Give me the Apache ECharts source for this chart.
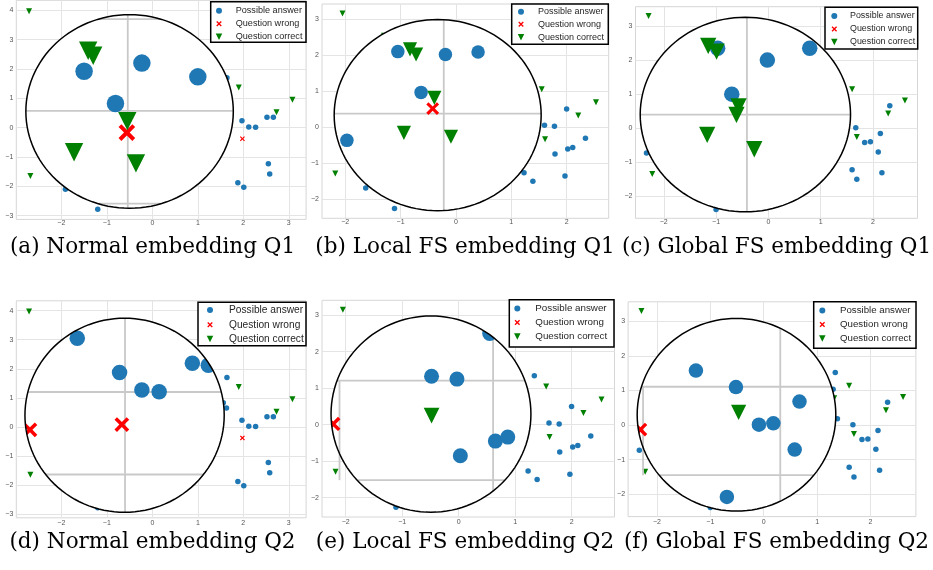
<!DOCTYPE html>
<html><head><meta charset="utf-8">
<script src="https://cdn.jsdelivr.net/npm/echarts@6/dist/echarts.min.js"></script>
<style>html,body{margin:0;padding:0;background:#fff}#c{width:933px;height:570px}</style>
</head><body><div id="c"></div>
<script>
// ================= DATA =================
// Background (small) points, shared by the two panels of the same embedding
const normalAnswer  = [[1.64,1.70],[1.56,0.83],[1.63,0.65],[1.97,0.23],[2.12,0.02],[2.27,0.01],[2.52,0.35],[2.66,0.35],[2.55,-1.23],[2.58,-1.58],[1.88,-1.88],[2.01,-2.03],[-1.91,-2.10],[-1.20,-2.78]];
const normalWrong   = [[1.98,-0.38]];
const normalCorrect = [[-2.71,3.97],[-2.68,-1.65],[1.90,1.37],[3.08,0.95],[2.73,0.52]];
const localAnswer   = [[2.00,0.50],[1.60,0.05],[1.78,0.02],[2.34,-0.31],[2.11,-0.57],[2.02,-0.61],[1.79,-0.75],[1.23,-1.27],[1.39,-1.50],[1.97,-1.36],[-1.63,-1.69],[-1.11,-2.26],[1.34,1.34]];
const localWrong    = [];
const localCorrect  = [[-2.05,3.15],[-1.30,2.53],[1.55,1.05],[2.53,0.69],[2.21,0.32],[1.61,-0.34],[-2.18,-1.29]];
const globalAnswer  = [[2.32,0.66],[1.67,0.01],[2.14,-0.16],[1.84,-0.42],[1.95,-0.40],[2.10,-0.70],[1.60,-1.22],[1.69,-1.50],[2.17,-1.31],[1.34,1.52],[1.30,1.04],[1.38,0.18],[-2.33,-0.73],[-1.00,-2.39]];
const globalWrong   = [];
const globalCorrect = [[-2.29,3.30],[-2.22,-1.35],[1.60,1.14],[2.61,0.81],[2.29,0.43],[1.69,-0.26],[1.32,0.78]];

// Magnified (lens) points per panel
const lensAAnswer  = [[-1.50,1.92],[-0.23,2.20],[1.00,1.73],[-0.81,0.82]];
const lensAWrong   = [[-0.56,-0.17]];
const lensACorrect = [[-1.41,2.62],[-1.30,2.45],[-0.55,0.22],[-1.72,-0.84],[-0.36,-1.22]];
const lensBAnswer  = [[-1.05,2.09],[-0.19,2.01],[0.40,2.08],[-0.63,0.96],[-1.97,-0.37]];
const lensBWrong   = [[-0.42,0.51]];
const lensBCorrect = [[-0.83,2.15],[-0.72,2.01],[-0.39,0.81],[-0.94,-0.16],[-0.09,-0.27]];
const lensCAnswer  = [[-0.97,2.35],[-0.02,2.00],[0.79,2.35],[-0.70,1.00]];
const lensCWrong   = [];
const lensCCorrect = [[-1.15,2.42],[-0.99,2.25],[-0.57,0.64],[-0.61,0.39],[-1.17,-0.20],[-0.27,-0.62]];
const lensDAnswer  = [[-1.65,3.05],[-0.72,1.87],[0.88,2.19],[1.23,2.12],[-0.23,1.27],[0.15,1.21]];
const lensDWrong   = [[-0.67,0.08],[-2.69,-0.10]];
const lensDCorrect = [];
const lensEAnswer  = [[0.55,2.50],[-0.48,1.33],[-0.03,1.25],[0.65,-0.45],[0.87,-0.34],[0.03,-0.85]];
const lensEWrong   = [[-2.22,0.02]];
const lensECorrect = [[-0.48,0.25]];
const lensFAnswer  = [[-1.27,1.58],[-0.52,1.10],[0.67,0.68],[-0.09,0.01],[0.18,0.05],[0.58,-0.71],[-0.69,-2.08]];
const lensFWrong   = [[-2.31,-0.13]];
const lensFCorrect = [[-0.47,0.37]];

// Lens ellipses: [centre x, centre y, radius x, radius y] in data units
const lensCircles = [[-0.50,0.55,2.28,3.30],[-0.33,0.33,1.87,2.65],[-0.44,0.40,2.01,2.86],[-0.61,0.40,2.19,3.34],[-0.49,0.29,1.77,2.69],[-0.51,0.30,1.86,2.79]];
// Lens grid lines (data values)
const lensVLines = [[-0.54],[-0.22],[-0.41],[-0.60],[0.61],[0.31]];
const lensHLines = [[0.57,3.70,-2.59],[0.37],[0.40],[1.20,-1.64],[1.21,-1.52],[1.11,-1.45]];
const lensSegments = [[],[],[],[],[[-2.11,1.21,-2.11,-1.52]],[[-2.26,1.11,-2.26,-1.45]]];

// Axes
const normalXRange = [-2.99, 3.38], normalYRange = [-3.13, 4.34];
const localXRange  = [-2.42, 2.76], localYRange  = [-2.53, 3.41];
const globalXRange = [-2.54, 2.85], globalYRange = [-2.65, 3.57];
const normalXTicks = [-2,-1,0,1,2,3], normalYTicks = [-3,-2,-1,0,1,2,3,4];
const localXTicks  = [-2,-1,0,1,2],   localYTicks  = [-2,-1,0,1,2,3];
const globalXTicks = [-2,-1,0,1,2],   globalYTicks = [-2,-1,0,1,2,3];

const legendNames = ['Possible answer','Question wrong','Question correct'];
const captions = ['(a) Normal embedding Q1','(b) Local FS embedding Q1','(c) Global FS embedding Q1','(d) Normal embedding Q2','(e) Local FS embedding Q2','(f) Global FS embedding Q2'];

// ================= LAYOUT / STYLE =================
const BLUE = '#1f77b4', RED = '#ff0000', GREEN = '#008000';
const X_PTS = [[0,1.7],[1.7,0],[5,3.3],[8.3,0],[10,1.7],[6.7,5],[10,8.3],[8.3,10],[5,6.7],[1.7,10],[0,8.3],[3.3,5]];
const X_PATH = 'path://M' + X_PTS.map(p => p.join(',')).join('L') + 'Z';
const TRI_PATH = 'path://M0,0L10,0L5,10Z';

const layout = [
  {grid:[16.3,0.3,289.8,219.1], big:17.5, lg:{box:[210.7,1.7,306,42.3], rows:[10.7,23.7,36.7], iconX:219, textX:235.7, font:9.1}, xm:0},
  {grid:[322.0,4.0,286.7,214.3], big:13.5, lg:{box:[511.7,4,608.3,44.3], rows:[11.7,24.3,37.3], iconX:521, textX:538, font:9.0}, xm:0},
  {grid:[635.5,6.7,282.0,211.6], big:15.5, lg:{box:[825,7.3,917.7,49], rows:[16,29,42], iconX:834.3, textX:850, font:8.9}, xm:0},
  {grid:[16.3,300.8,289.8,217.0], big:15.5, lg:{box:[198,302.3,306,345.7], rows:[310,324.7,339], iconX:210, textX:229, font:10.2}, xm:2},
  {grid:[322.0,300.3,292.5,216.7], big:15, lg:{box:[509.3,299.7,614,347], rows:[308.5,322.5,336.5], iconX:517.3, textX:535.3, font:9.8}, xm:2},
  {grid:[628.1,301.8,287.8,214.8], big:14.5, lg:{box:[813.7,301.7,916,348.3], rows:[310.5,324.5,338.5], iconX:822.3, textX:840, font:9.7}, xm:2}
];
const captionPos = [[152.5,247.5],[465,247.5],[776.5,247.5],[152.5,542.7],[465,542.7],[776.5,542.7]];

const bg = {
  normal:{answer:normalAnswer, wrong:normalWrong, correct:normalCorrect, x:normalXRange, y:normalYRange, xt:normalXTicks, yt:normalYTicks},
  local:{answer:localAnswer, wrong:localWrong, correct:localCorrect, x:localXRange, y:localYRange, xt:localXTicks, yt:localYTicks},
  global:{answer:globalAnswer, wrong:globalWrong, correct:globalCorrect, x:globalXRange, y:globalYRange, xt:globalXTicks, yt:globalYTicks}
};
const panels = [
  {bg:'normal', answer:lensAAnswer, wrong:lensAWrong, correct:lensACorrect},
  {bg:'local',  answer:lensBAnswer, wrong:lensBWrong, correct:lensBCorrect},
  {bg:'global', answer:lensCAnswer, wrong:lensCWrong, correct:lensCCorrect},
  {bg:'normal', answer:lensDAnswer, wrong:lensDWrong, correct:lensDCorrect},
  {bg:'local',  answer:lensEAnswer, wrong:lensEWrong, correct:lensECorrect},
  {bg:'global', answer:lensFAnswer, wrong:lensFWrong, correct:lensFCorrect}
];

const minusFmt = v => (v < 0 ? '\u2212' + Math.abs(v) : String(v));
const LENS_LINE = '#c9c9c9';

function lensGeom(api, lens) {
  const c = api.coord([lens[0], lens[1]]);
  const s = api.size([lens[2], lens[3]], [lens[0], lens[1]]);
  return {cx:c[0], cy:c[1], rx:s[0], ry:s[1]};
}
function ellipsePts(g) {
  const pts = [], n = 120;
  for (let k = 0; k < n; k++) {
    const t = 2 * Math.PI * k / n;
    pts.push([g.cx + g.rx * Math.cos(t), g.cy + g.ry * Math.sin(t)]);
  }
  return pts;
}
function markerEl(kind, x, y, S, extra) {
  let el;
  if (kind === 0) el = {type:'circle', shape:{cx:x, cy:y, r:S/2}, style:{fill:BLUE}};
  else if (kind === 1) el = {type:'polygon', shape:{points:X_PTS.map(q => [x + (q[0]-5)/10*S, y + (q[1]-5)/10*S])}, style:{fill:RED}};
  else el = {type:'polygon', shape:{points:[[x-S/2, y-S/2],[x+S/2, y-S/2],[x, y+S/2]]}, style:{fill:GREEN}};
  return Object.assign(el, extra || {});
}

const option = {animation:false, grid:[], xAxis:[], yAxis:[], series:[], graphic:[]};

panels.forEach((p, i) => {
  const L = layout[i], B = bg[p.bg], lens = lensCircles[i];
  option.grid.push({left:L.grid[0], top:L.grid[1], width:L.grid[2], height:L.grid[3], show:true,
    borderColor:'#d6d6d6', borderWidth:1, backgroundColor:'#fff', containLabel:false, outerBoundsMode:'none'});
  const axisCommon = {type:'value', gridIndex:i, axisLine:{show:false},
    splitLine:{show:true, lineStyle:{color:'#e4e4e4', width:1}}};
  option.xAxis.push(Object.assign({}, axisCommon, {min:B.x[0], max:B.x[1],
    axisTick:{show:false, customValues:B.xt},
    axisLabel:{customValues:B.xt, formatter:minusFmt, fontSize:7, color:'#555', margin:L.xm, fontFamily:'Liberation Sans'}}));
  option.yAxis.push(Object.assign({}, axisCommon, {min:B.y[0], max:B.y[1],
    axisTick:{show:false, customValues:B.yt},
    axisLabel:{customValues:B.yt, formatter:minusFmt, fontSize:7, color:'#555', margin:3, fontFamily:'Liberation Sans'}}));

  // small background markers
  option.series.push(
    {type:'scatter', name:legendNames[0], xAxisIndex:i, yAxisIndex:i, data:B.answer, symbol:'circle', symbolSize:5.5, itemStyle:{color:BLUE, opacity:1}, z:2, silent:true},
    {type:'scatter', name:legendNames[1], xAxisIndex:i, yAxisIndex:i, data:B.wrong, symbol:X_PATH, symbolSize:5, itemStyle:{color:RED, opacity:1}, z:2, silent:true},
    {type:'scatter', name:legendNames[2], xAxisIndex:i, yAxisIndex:i, data:B.correct, symbol:TRI_PATH, symbolSize:6, itemStyle:{color:GREEN, opacity:1}, z:2, silent:true}
  );

  // lens: white disc + its own grid lines
  option.series.push({type:'custom', name:'lens'+i, coordinateSystem:'cartesian2d', xAxisIndex:i, yAxisIndex:i, z:3, silent:true,
    data:[lens], encode:{x:0, y:1},
    renderItem:(params, api) => {
      const g = lensGeom(api, lens);
      const ch = [{type:'polygon', shape:{points:ellipsePts(g)}, style:{fill:'#fff', stroke:null}}];
      const ls = {stroke:LENS_LINE, lineWidth:1.8};
      lensVLines[i].forEach(x => {
        const px = api.coord([x, lens[1]])[0], r = (px - g.cx) / g.rx;
        if (Math.abs(r) < 1) { const h = g.ry * Math.sqrt(1 - r*r);
          ch.push({type:'line', shape:{x1:px, y1:g.cy - h, x2:px, y2:g.cy + h}, style:ls}); }
      });
      lensHLines[i].forEach(y => {
        const py = api.coord([lens[0], y])[1], r = (py - g.cy) / g.ry;
        if (Math.abs(r) < 1) { const w = g.rx * Math.sqrt(1 - r*r);
          ch.push({type:'line', shape:{x1:g.cx - w, y1:py, x2:g.cx + w, y2:py}, style:ls}); }
      });
      lensSegments[i].forEach(s => {
        const a = api.coord([s[0], s[1]]), b = api.coord([s[2], s[3]]);
        ch.push({type:'line', shape:{x1:a[0], y1:a[1], x2:b[0], y2:b[1]}, style:ls});
      });
      return {type:'group', children:ch};
    }});

  // magnified markers, clipped to the lens
  const bigData = [].concat(p.answer.map(d => [d[0], d[1], 0]), p.wrong.map(d => [d[0], d[1], 1]), p.correct.map(d => [d[0], d[1], 2]));
  option.series.push({type:'custom', name:'lensPts'+i, coordinateSystem:'cartesian2d', xAxisIndex:i, yAxisIndex:i, z:4, silent:true,
    data:bigData, encode:{x:0, y:1},
    renderItem:(params, api) => {
      const g = lensGeom(api, lens);
      const pt = api.coord([api.value(0), api.value(1)]);
      const kind = api.value(2), S = L.big * (kind === 0 ? 1 : kind === 1 ? 0.95 : 1.05);
      return markerEl(kind, pt[0], pt[1], S, {clipPath:{type:'polygon', shape:{points:ellipsePts(g)}}});
    }});

  // lens outline
  option.series.push({type:'custom', name:'ring'+i, coordinateSystem:'cartesian2d', xAxisIndex:i, yAxisIndex:i, z:6, silent:true,
    data:[lens], encode:{x:0, y:1},
    renderItem:(params, api) => {
      const g = lensGeom(api, lens);
      return {type:'polygon', shape:{points:ellipsePts(g)}, style:{fill:null, stroke:'#000', lineWidth:1.5}};
    }});

  // legend box (drawn as graphic: frame, markers, real text), on top of everything
  const lg = L.lg;
  option.graphic.push({type:'rect', silent:true, z:100, zlevel:1,
    shape:{x:lg.box[0], y:lg.box[1], width:lg.box[2]-lg.box[0], height:lg.box[3]-lg.box[1]},
    style:{fill:'#fff', stroke:'#000', lineWidth:1.5}});
  legendNames.forEach((nm, k) => {
    option.graphic.push(markerEl(k, lg.iconX, lg.rows[k], k === 0 ? 6 : k === 1 ? 5.5 : 6.5, {silent:true, z:101, zlevel:1}));
    option.graphic.push({type:'text', x:lg.textX, y:lg.rows[k], silent:true, z:101, zlevel:1,
      style:{text:nm, fontSize:lg.font, fontFamily:'Liberation Sans', fill:'#262626',
        align:'left', verticalAlign:'middle', textAlign:'left', textVerticalAlign:'middle'}});
  });

  // caption
  option.graphic.push({type:'text', x:captionPos[i][0], y:captionPos[i][1], silent:true, z:100,
    style:{text:captions[i], fontSize:21.5, fontFamily:'DejaVu Serif', fill:'#000',
      align:'center', verticalAlign:'middle', textAlign:'center', textVerticalAlign:'middle'}});
});

const chart = echarts.init(document.getElementById('c'), null, {renderer:'canvas'});
chart.setOption(option);
</script>
</body></html>
